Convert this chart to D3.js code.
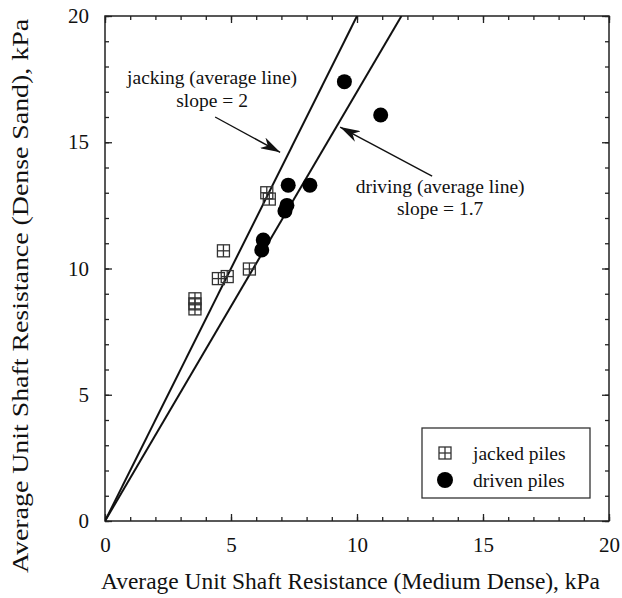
<!DOCTYPE html>
<html>
<head>
<meta charset="utf-8">
<script src="https://cdn.jsdelivr.net/npm/d3@7"></script>
<style>
  body { margin: 0; background: #fff; }
</style>
</head>
<body>
<svg id="chart" width="622" height="598"></svg>
<script>
// jacked piles (medium dense vs dense sand), kPa
var jackedX = [6.42, 6.52, 4.70, 4.50, 4.85, 5.73, 3.57, 3.57, 3.57];
var jackedY = [13.0, 12.75, 10.7, 9.6, 9.68, 9.98, 8.8, 8.6, 8.4];
// driven piles
var drivenX = [9.50, 10.94, 7.27, 8.13, 7.22, 7.14, 6.28, 6.22];
var drivenY = [17.4, 16.08, 13.3, 13.3, 12.5, 12.28, 11.13, 10.73];
// average lines
var slopes = [2, 1.7];
var majorTicks = [0, 5, 10, 15, 20];
var minorTicks = d3.range(0, 21, 1);

var serif = "'Liberation Serif', 'Times New Roman', serif";
var svg = d3.select("#chart"),
    margin = {top: 16, left: 105, bottom: 77, right: 13},
    width = +svg.attr("width"),
    height = +svg.attr("height");

var x = d3.scaleLinear().domain([0, 20]).range([margin.left, width - margin.right]);
var y = d3.scaleLinear().domain([0, 20]).range([height - margin.bottom, margin.top]);

// frame
svg.append("rect")
  .attr("x", x(0)).attr("y", y(20))
  .attr("width", x(20) - x(0)).attr("height", y(0) - y(20))
  .attr("fill", "none").attr("stroke", "#222").attr("stroke-width", 1.5);

function ticks(axis, size, vals, labels) {
  return axis.tickValues(vals).tickSize(size).tickSizeOuter(0)
    .tickFormat(labels ? d3.format("d") : "");
}
function styleAxis(g) {
  g.attr("font-family", serif);
  g.select(".domain").remove();
  g.selectAll("line").attr("stroke", "#222").attr("stroke-width", 1.3);
  g.selectAll("text").style("font-family", serif).style("font-size", "21px").attr("fill", "#111");
}

var bottomY = y(0), leftX = x(0);
// minor ticks all sides
[[d3.axisBottom(x), `translate(0,${bottomY})`],
 [d3.axisTop(x), `translate(0,${y(20)})`],
 [d3.axisLeft(y), `translate(${leftX},0)`],
 [d3.axisRight(y), `translate(${x(20)},0)`]].forEach(function(a) {
  svg.append("g").attr("transform", a[1])
    .call(ticks(a[0], -4, minorTicks, false)).call(styleAxis);
});
// major ticks
svg.append("g").attr("transform", `translate(0,${bottomY})`)
  .call(ticks(d3.axisBottom(x), -7, majorTicks, true).tickPadding(16)).call(styleAxis);
svg.append("g").attr("transform", `translate(0,${y(20)})`)
  .call(ticks(d3.axisTop(x), -7, majorTicks, false)).call(styleAxis);
svg.append("g").attr("transform", `translate(${leftX},0)`)
  .call(ticks(d3.axisLeft(y), -7, majorTicks, true).tickPadding(16)).call(styleAxis);
svg.append("g").attr("transform", `translate(${x(20)},0)`)
  .call(ticks(d3.axisRight(y), -7, majorTicks, false)).call(styleAxis);

// axis titles
svg.append("text")
  .attr("x", 350.5).attr("y", 589)
  .attr("text-anchor", "middle").style("font-size", "23px").style("font-family", serif)
  .attr("fill", "#111")
  .attr("textLength", 499).attr("lengthAdjust", "spacingAndGlyphs")
  .text("Average Unit Shaft Resistance (Medium Dense), kPa");
svg.append("text")
  .attr("transform", "translate(28,296) rotate(-90)")
  .attr("text-anchor", "middle").style("font-size", "23px").style("font-family", serif)
  .attr("fill", "#111")
  .attr("textLength", 554).attr("lengthAdjust", "spacingAndGlyphs")
  .text("Average Unit Shaft Resistance (Dense Sand), kPa");

// average lines
svg.append("clipPath").attr("id", "plot").append("rect")
  .attr("x", x(0)).attr("y", y(20))
  .attr("width", x(20) - x(0)).attr("height", y(0) - y(20));
svg.append("g").attr("clip-path", "url(#plot)")
  .selectAll("line.avg").data(slopes).enter().append("line")
  .attr("class", "avg")
  .attr("x1", x(0)).attr("y1", y(0))
  .attr("x2", d => x(20 / d)).attr("y2", y(20))
  .attr("stroke", "#111").attr("stroke-width", 2);

// markers
function jackSymbol(g, cx, cy, s) {
  var h = s / 2;
  g.append("rect").attr("x", cx - h).attr("y", cy - h).attr("width", s).attr("height", s)
    .attr("fill", "none").attr("stroke", "#333").attr("stroke-width", 1.3);
  g.append("line").attr("x1", cx - h).attr("x2", cx + h).attr("y1", cy).attr("y2", cy)
    .attr("stroke", "#333").attr("stroke-width", 1.3);
  g.append("line").attr("x1", cx).attr("x2", cx).attr("y1", cy - h).attr("y2", cy + h)
    .attr("stroke", "#333").attr("stroke-width", 1.3);
}
var jacked = jackedX.map((v, i) => ({x: v, y: jackedY[i]}));
var driven = drivenX.map((v, i) => ({x: v, y: drivenY[i]}));

var jg = svg.append("g");
jacked.forEach(d => jackSymbol(jg, x(d.x), y(d.y), 12));

svg.append("g").selectAll("circle").data(driven).enter().append("circle")
  .attr("cx", d => x(d.x)).attr("cy", d => y(d.y)).attr("r", 7.5)
  .attr("fill", "#000");

// annotations
svg.append("defs").append("marker")
  .attr("id", "arrow").attr("viewBox", "0 0 20 12")
  .attr("refX", 20).attr("refY", 6)
  .attr("markerWidth", 20).attr("markerHeight", 12)
  .attr("markerUnits", "userSpaceOnUse").attr("orient", "auto")
  .append("path").attr("d", "M0,0 L20,6 L0,12 L6,6 Z").attr("fill", "#111");

var arrows = [
  {x1: 4.37, y1: 16.0, x2: 6.95, y2: 14.6},
  {x1: 12.98, y1: 13.66, x2: 9.33, y2: 15.6}
];
svg.selectAll("line.arrow").data(arrows).enter().append("line")
  .attr("class", "arrow")
  .attr("x1", d => x(d.x1)).attr("y1", d => y(d.y1))
  .attr("x2", d => x(d.x2)).attr("y2", d => y(d.y2))
  .attr("stroke", "#111").attr("stroke-width", 1.4)
  .attr("marker-end", "url(#arrow)");

var notes = [
  {x: 4.25, y: 17.3, t: "jacking (average line)"},
  {x: 4.25, y: 16.4, t: "slope = 2"},
  {x: 13.3, y: 12.99, t: "driving (average line)"},
  {x: 13.3, y: 12.12, t: "slope = 1.7"}
];
svg.selectAll("text.note").data(notes).enter().append("text")
  .attr("class", "note")
  .attr("x", d => x(d.x)).attr("y", d => y(d.y))
  .attr("text-anchor", "middle").style("font-size", "19.5px").style("font-family", serif)
  .attr("fill", "#111")
  .text(d => d.t);

// legend
var lg = svg.append("g");
lg.append("rect").attr("x", 422).attr("y", 428).attr("width", 168).attr("height", 70)
  .attr("fill", "#fff").attr("stroke", "#333").attr("stroke-width", 1.3);
jackSymbol(lg, 445, 453, 12);
lg.append("circle").attr("cx", 445).attr("cy", 480).attr("r", 8).attr("fill", "#000");
lg.selectAll("text.lt").data(["jacked piles", "driven piles"]).enter().append("text")
  .attr("class", "lt")
  .attr("x", 473).attr("y", (d, i) => 460 + i * 27)
  .style("font-size", "19.5px").style("font-family", serif).attr("fill", "#111")
  .text(d => d);
</script>
</body>
</html>
